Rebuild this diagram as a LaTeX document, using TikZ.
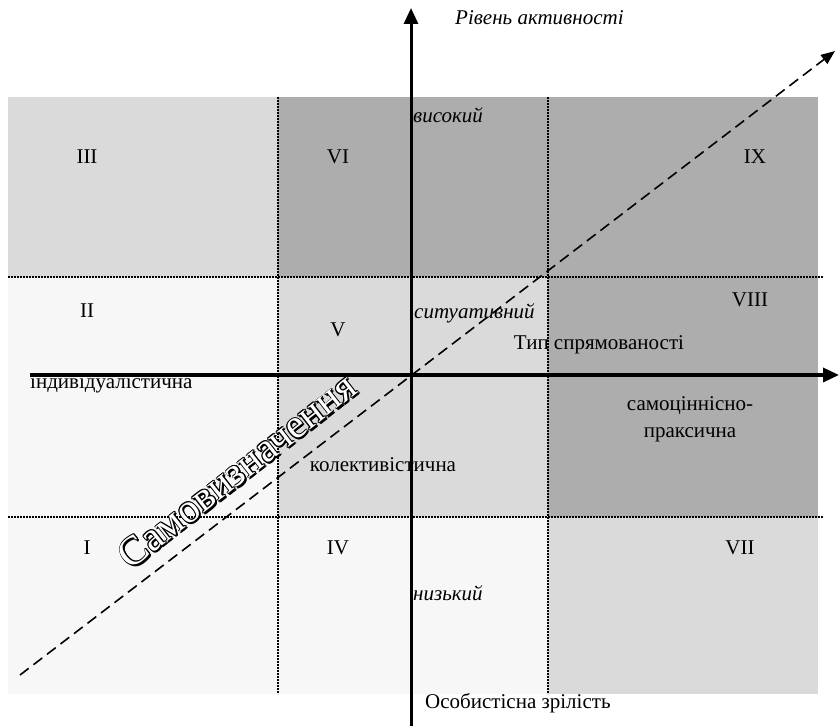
\documentclass[tikz,border=0pt]{standalone}
\usepackage{fontspec}
\setmainfont{Liberation Serif}
\usetikzlibrary{arrows.meta}
\definecolor{cdark}{HTML}{ADADAD}
\definecolor{clight}{HTML}{DADADA}
\definecolor{cpale}{HTML}{F7F7F7}
\tikzset{
  lbl/.style={inner sep=0pt, font=\fontsize{21}{24}\selectfont},
  ilbl/.style={lbl, font=\fontsize{21}{24}\selectfont\itshape},
  dots/.style={line width=2.4pt, dash pattern=on 1.6pt off 1.4pt},
  axis/.style={line width=3.5pt, -{Triangle[length=16pt,width=14pt]}},
  diag/.style={line width=1.6pt, dash pattern=on 11pt off 6pt, -{Triangle[length=14pt,width=11pt]}},
  outl/.style={rotate=38, inner sep=0pt, anchor=base, font=\fontsize{41}{42}\selectfont},
}
\begin{document}
\begin{tikzpicture}[x=1pt,y=1pt]
\useasboundingbox (0,0) rectangle (839,726);
% cells
\fill[clight] (8,449) rectangle (278,629);
\fill[cdark]  (278,449) rectangle (548,629);
\fill[cdark]  (548,449) rectangle (818,629);
\fill[cpale]  (8,209) rectangle (278,449);
\fill[clight] (278,209) rectangle (548,449);
\fill[cdark]  (548,209) rectangle (818,449);
\fill[cpale]  (8,32) rectangle (278,209);
\fill[cpale]  (278,32) rectangle (548,209);
\fill[clight] (548,32) rectangle (818,209);
% dotted grid lines
\coordinate (h1a) at (8,449); \coordinate (h1b) at (823,449);
\coordinate (h2a) at (8,209); \coordinate (h2b) at (823,209);
\coordinate (v1a) at (278,629); \coordinate (v1b) at (278,32);
\coordinate (v2a) at (548,629); \coordinate (v2b) at (548,32);
\draw[dots] (h1a) -- (h1b);
\draw[dots] (h2a) -- (h2b);
\draw[dots] (v1a) -- (v1b);
\draw[dots] (v2a) -- (v2b);
% diagonal
\coordinate (d1) at (20,51);
\coordinate (d2) at (835,675);
\draw[diag] (d1) -- (d2);
% axes
\coordinate (xa) at (30,351); \coordinate (xb) at (839,351);
\coordinate (ya) at (411,0);  \coordinate (yb) at (411,718);
\draw[axis] (xa) -- (xb);
\draw[axis, line width=3pt] (ya) -- (yb);
% labels
\node[ilbl, anchor=west] (ra) at (455,708) {Рівень активності};
\node[ilbl, anchor=west] (hi) at (413,611) {високий};
\node[ilbl, anchor=west] (si) at (414,413) {ситуативний};
\node[ilbl, anchor=west] (lo) at (413,133) {низький};
\node[lbl] (c3) at (87,569) {III};
\node[lbl] (c6) at (338,569) {VI};
\node[lbl] (c9) at (755,569) {IX};
\node[lbl] (c2) at (87,415) {II};
\node[lbl] (c5) at (338,396) {V};
\node[lbl] (c8) at (750,426) {VIII};
\node[lbl] (c1) at (87,178) {I};
\node[lbl] (c4) at (338,178) {IV};
\node[lbl] (c7) at (740,178) {VII};
\node[lbl] (ts) at (599,381) {Тип спрямованості};
\node[lbl, anchor=west] (ind) at (30,342) {індивідуалістична};
\node[lbl, align=center, font=\fontsize{21}{27}\selectfont] (sam) at (690,307) {самоцінніснo-\\праксична};
\node[lbl] (kol) at (383,261) {колективістична};
\node[lbl, anchor=west] (oz) at (425,23) {Особистісна зрілість};
% outlined rotated text
\foreach \dx/\dy in {0.9/0,-0.9/0,0/0.9,0/-0.9,0.65/0.65,-0.65/0.65,0.65/-0.65,-0.65/-0.65,1.6/-1.6,2/-1.1,1.1/-2}{
  \node[outl, text=black] at (245+\dx,245+\dy) {Самовизначення};
}
\node[outl, text=white] (samv) at (245,245) {Самовизначення};
\end{tikzpicture}
\end{document}
